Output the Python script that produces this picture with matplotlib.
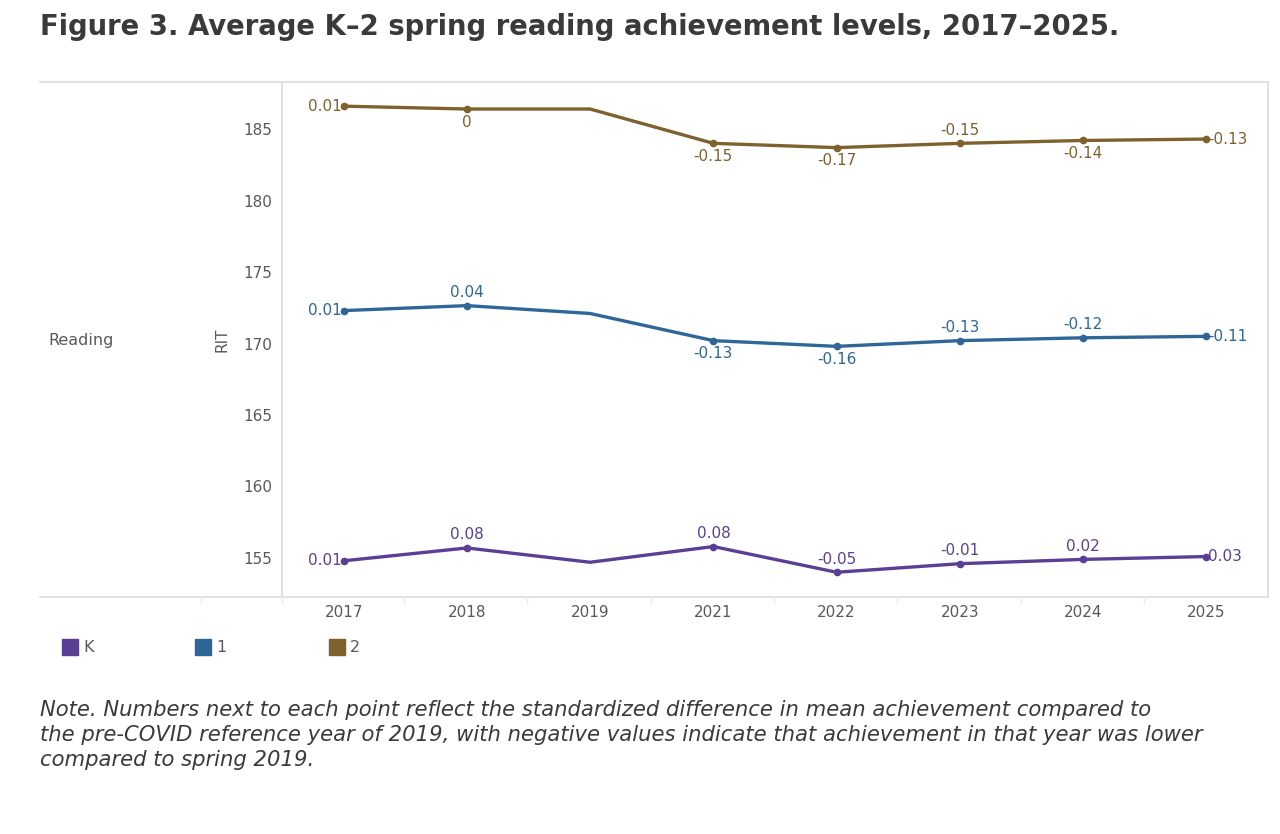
import numpy as np
import matplotlib
matplotlib.use('Agg')
import matplotlib.pyplot as plt
from matplotlib.lines import Line2D
from matplotlib.patches import Rectangle

plt.rcParams['font.family'] = ['DejaVu Sans']

# data
years = ['2017', '2018', '2019', '2021', '2022', '2023', '2024', '2025']
grades = ['K', '1', '2']
rit_k = [154.8, 155.7, 154.7, 155.8, 154.0, 154.6, 154.9, 155.1]
rit_1 = [172.3, 172.65, 172.1, 170.2, 169.8, 170.2, 170.4, 170.5]
rit_2 = [186.6, 186.4, 186.4, 184.0, 183.7, 184.0, 184.2, 184.3]
diff_k = ['0.01', '0.08', None, '0.08', '-0.05', '-0.01', '0.02', '0.03']
diff_1 = ['0.01', '0.04', None, '-0.13', '-0.16', '-0.13', '-0.12', '-0.11']
diff_2 = ['0.01', '0', None, '-0.15', '-0.17', '-0.15', '-0.14', '-0.13']
# where each label sits: l=left, r=right, a=above, b=below
pos_k = ['l', 'a', None, 'a', 'a', 'a', 'a', 'r']
pos_1 = ['l', 'a', None, 'b', 'b', 'a', 'a', 'r']
pos_2 = ['l', 'b', None, 'b', 'b', 'a', 'b', 'r']

colors = ['#5b3f94', '#2e6697', '#7f612e']
grey = '#595959'
rule = '#dcdcdc'

W, H = 1280, 834
fig = plt.figure(figsize=(W / 100, H / 100), dpi=100)


def fx(px):
    return px / W


def fy(py):
    return 1 - py / H


ax_l, ax_r, ax_t, ax_b = 282, 1268, 82, 597
ax = fig.add_axes([fx(ax_l), fy(ax_b), fx(ax_r - ax_l), fy(ax_t) - fy(ax_b)])

x = np.arange(len(years))
series = [(rit_k, diff_k, pos_k), (rit_1, diff_1, pos_1), (rit_2, diff_2, pos_2)]
for (vals, labs, poss), c in zip(series, colors):
    ax.plot(x, vals, color=c, lw=2.4, solid_joinstyle='round', zorder=3)
    has = [i for i in range(len(vals)) if labs[i] is not None]
    ax.plot(x[has], np.array(vals)[has], 'o', color=c, ms=4.5, zorder=4)
    for i in has:
        p = poss[i]
        if p == 'l':
            ax.annotate(labs[i], (x[i], vals[i]), xytext=(-1, 0), textcoords='offset points',
                        ha='right', va='center', color=c, fontsize=11)
        elif p == 'r':
            ax.annotate(labs[i], (x[i], vals[i]), xytext=(1, 0), textcoords='offset points',
                        ha='left', va='center', color=c, fontsize=11)
        elif p == 'a':
            ax.annotate(labs[i], (x[i], vals[i]), xytext=(0, 4), textcoords='offset points',
                        ha='center', va='bottom', color=c, fontsize=11)
        else:
            ax.annotate(labs[i], (x[i], vals[i]), xytext=(0, -4), textcoords='offset points',
                        ha='center', va='top', color=c, fontsize=11)

ax.set_xlim(-0.5, 7.5)
ax.set_ylim(152.27, 188.29)
ax.set_xticks(x)
ax.set_xticklabels(years)
ax.set_yticks([155, 160, 165, 170, 175, 180, 185])
ax.tick_params(axis='both', length=0, labelsize=11, labelcolor=grey)
ax.tick_params(axis='x', pad=6)
ax.tick_params(axis='y', pad=7)
for s in ['top', 'right', 'bottom']:
    ax.spines[s].set_visible(False)
ax.spines['left'].set_color(rule)
ax.spines['left'].set_linewidth(1.2)
ax.set_ylabel('RIT', color=grey, fontsize=11, labelpad=10)

# frame lines around the panel
fig.add_artist(Line2D([fx(40), fx(ax_r)], [fy(ax_t), fy(ax_t)], color=rule, lw=1.2))
fig.add_artist(Line2D([fx(40), fx(ax_r)], [fy(ax_b), fy(ax_b)], color=rule, lw=1.2))
fig.add_artist(Line2D([fx(ax_r), fx(ax_r)], [fy(ax_t), fy(ax_b)], color=rule, lw=1.2))
for bx in [201, 282] + [404 + 123.3 * k for k in range(7)]:
    fig.add_artist(Line2D([fx(bx), fx(bx)], [fy(ax_b), fy(ax_b + 6)], color='#ececec', lw=1))

fig.text(fx(48), fy(340), 'Reading', color=grey, fontsize=11.5, ha='left', va='center')

fig.text(fx(40), fy(27), 'Figure 3. Average K\u20132 spring reading achievement levels, 2017\u20132025.',
         fontsize=19.8, fontweight='bold', color='#3a3a3a', ha='left', va='center')

# legend
for lx, g, c in zip([62, 195, 329], grades, colors):
    fig.add_artist(Rectangle((fx(lx), fy(655)), fx(16), fy(639) - fy(655), color=c))
    fig.text(fx(lx + 21), fy(647), g, color=grey, fontsize=11.5, ha='left', va='center')

note = ('Note. Numbers next to each point reflect the standardized difference in mean achievement compared to\n'
        'the pre-COVID reference year of 2019, with negative values indicate that achievement in that year was lower\n'
        'compared to spring 2019.')
fig.text(fx(40), fy(700), note, fontsize=15.2, style='italic', color='#3a3a3a',
         ha='left', va='top', linespacing=1.3)

fig.savefig('out.png', dpi=100)
